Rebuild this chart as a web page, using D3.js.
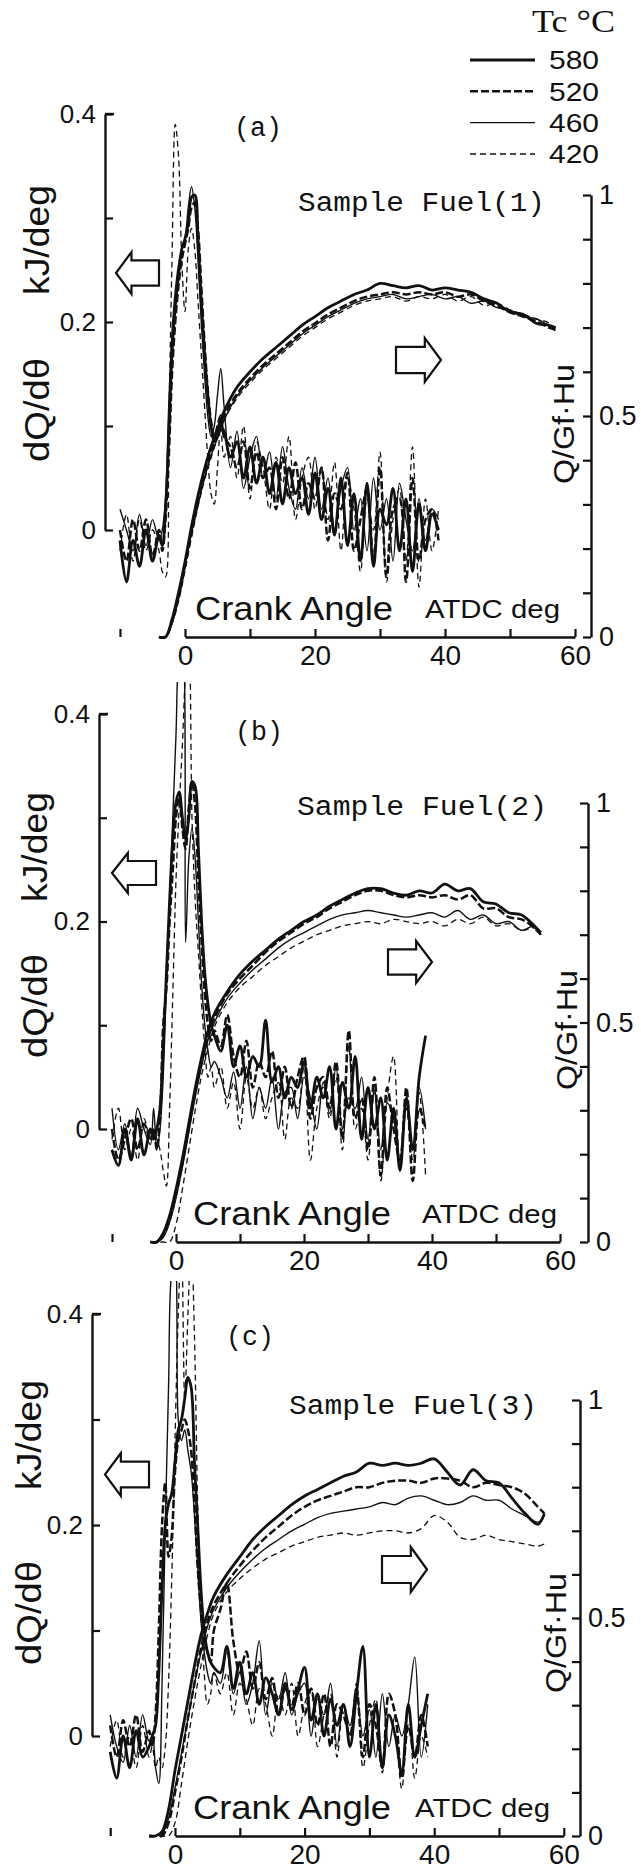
<!DOCTYPE html>
<html>
<head>
<meta charset="utf-8">
<script src="https://cdn.jsdelivr.net/npm/d3@7"></script>
<style>
  body { margin: 0; background: #fff; }
  svg text { fill: #111; }
</style>
</head>
<body>
<div id="chart"></div>
<script>
const width = 641;
const height = 1874;

// ============= Data =============

// crank angle grids (deg ATDC)
const dqAngles = [-10, -9, -8, -7, -6, -5, -4,
  -3.5, -3, -2.5, -2, -1.5, -1, -0.5, 0, 0.5, 1, 1.5, 2, 2.5, 3, 3.5, 4, 4.5, 5, 5.5, 6,
  7, 8, 9, 10, 11, 12, 13, 14, 15, 16, 17, 18, 19, 20, 21, 22, 23, 24, 25, 26, 27, 28, 29, 30,
  31, 32, 33, 34, 35, 36, 37, 38, 39];
const qAngles = [-4, -3, -2, -1, 0, 1, 2, 3, 4, 5, 6,
  8, 10, 12, 14, 16, 18, 20, 22, 24, 26, 28, 30, 32, 34, 36, 38, 40, 42, 44, 46, 48, 50, 52, 54, 56, 57];

const tcValues = [580, 520, 460, 420];
const xTickLabels = [0, 20, 40, 60];
const leftTickLabels = [0, 0.2, 0.4];
const rightTickLabels = [0, 0.5, 1];

// (a) Sample Fuel(1): heat release rate dQ/dθ, kJ/deg
const dqA_580 = [-0.01, -0.05, -0.01, -0.035, 0.0, -0.03, -0.005,
  -0.015, 0.02, 0.09, 0.17, 0.215, 0.245, 0.27, 0.28, 0.295, 0.32, 0.322, 0.28, 0.22, 0.17, 0.13, 0.1, 0.085, 0.09, 0.1, 0.095,
  0.07, 0.085, 0.05, 0.08, 0.045, 0.07, 0.035, 0.065, 0.025, 0.06, 0.035, 0.05, 0.015, 0.055, 0.01, 0.04, -0.005, 0.05, -0.015, 0.035,
  -0.03, 0.045, -0.035, 0.02, 0.005, 0.04, -0.02, 0.03, -0.04, 0.025, -0.02, 0.015, 0.0];
const dqA_520 = [0.0, -0.03, 0.01, -0.02, 0.01, -0.025, 0.0,
  -0.02, 0.01, 0.07, 0.15, 0.2, 0.235, 0.26, 0.275, 0.29, 0.31, 0.315, 0.29, 0.235, 0.18, 0.135, 0.105, 0.09, 0.1, 0.11, 0.09,
  0.08, 0.06, 0.085, 0.04, 0.075, 0.05, 0.06, 0.02, 0.07, 0.03, 0.065, 0.02, 0.045, 0.03, 0.06, -0.01, 0.035, 0.02, 0.055, -0.02,
  0.01, 0.04, -0.03, 0.06, -0.045, 0.02, 0.03, -0.05, 0.05, -0.03, 0.01, 0.02, -0.01];
const dqA_460 = [0.02, 0.0, -0.02, 0.015, -0.015, 0.01, -0.01,
  0.0, 0.03, 0.12, 0.19, 0.23, 0.255, 0.27, 0.28, 0.31, 0.33, 0.31, 0.26, 0.2, 0.15, 0.11, 0.09, 0.1, 0.13, 0.155, 0.12,
  0.06, 0.095, 0.04, 0.07, 0.09, 0.05, 0.075, 0.03, 0.08, 0.04, 0.02, 0.06, 0.03, 0.07, 0.02, 0.05, 0.0, 0.04, 0.06, 0.0,
  0.03, -0.02, 0.05, 0.0, 0.03, -0.03, 0.045, 0.01, -0.02, 0.03, -0.01, 0.02, 0.01];
const dqA_420 = [-0.02, 0.015, -0.03, 0.01, -0.02, 0.0, -0.02,
  -0.04, -0.045, 0.1, 0.26, 0.39, 0.36, 0.26, 0.21, 0.27, 0.29, 0.27, 0.22, 0.17, 0.12, 0.07, 0.035, 0.025, 0.06, 0.1, 0.07,
  0.09, 0.05, 0.1, 0.03, 0.085, 0.06, 0.02, 0.07, 0.045, 0.09, 0.01, 0.05, 0.07, 0.02, 0.06, 0.01, 0.065, -0.02, 0.05, 0.02,
  -0.04, 0.03, 0.0, 0.075, -0.05, 0.01, 0.04, -0.03, 0.08, -0.055, 0.03, -0.02, 0.02];

// (a) cumulative heat release Q/Gf·Hu
const qA_580 = [0, 0, 0.04, 0.1, 0.17, 0.25, 0.32, 0.38, 0.43, 0.47, 0.51,
  0.565, 0.6, 0.63, 0.655, 0.68, 0.705, 0.725, 0.745, 0.76, 0.775, 0.785, 0.8, 0.795, 0.79, 0.795, 0.785, 0.79, 0.785, 0.78,
  0.765, 0.755, 0.735, 0.73, 0.71, 0.705, 0.7];
const qA_520 = [0, 0, 0.035, 0.09, 0.16, 0.235, 0.305, 0.365, 0.415, 0.46, 0.5,
  0.55, 0.585, 0.615, 0.64, 0.665, 0.69, 0.71, 0.73, 0.745, 0.76, 0.77, 0.775, 0.78, 0.775, 0.78, 0.775, 0.78, 0.77, 0.775,
  0.76, 0.75, 0.735, 0.725, 0.715, 0.7, 0.695];
const qA_460 = [0, 0, 0.03, 0.09, 0.16, 0.235, 0.3, 0.36, 0.41, 0.45, 0.49,
  0.545, 0.58, 0.61, 0.635, 0.66, 0.685, 0.705, 0.725, 0.74, 0.755, 0.765, 0.77, 0.775, 0.765, 0.77, 0.775, 0.765, 0.77, 0.755,
  0.76, 0.745, 0.74, 0.725, 0.72, 0.705, 0.7];
const qA_420 = [0, 0, 0.03, 0.08, 0.15, 0.225, 0.295, 0.355, 0.405, 0.45, 0.49,
  0.54, 0.575, 0.605, 0.63, 0.655, 0.68, 0.7, 0.72, 0.735, 0.75, 0.76, 0.765, 0.77, 0.76, 0.77, 0.765, 0.775, 0.76, 0.77,
  0.75, 0.755, 0.74, 0.73, 0.72, 0.71, 0.69];

// (b) Sample Fuel(2)
const dqB_580 = [-0.02, -0.035, 0.0, -0.03, 0.01, -0.025, 0.0,
  -0.01, 0.0, 0.02, 0.08, 0.15, 0.22, 0.28, 0.315, 0.325, 0.3, 0.28, 0.3, 0.335, 0.33, 0.27, 0.2, 0.15, 0.12, 0.1, 0.09,
  0.075, 0.1, 0.06, 0.08, 0.05, 0.07, 0.06, 0.105, 0.045, 0.06, 0.03, 0.05, 0.04, 0.065, 0.02, 0.05, 0.03, 0.06, 0.0, 0.045,
  0.02, 0.07, -0.01, 0.04, 0.0, 0.03, -0.03, 0.02, -0.04, 0.03, -0.02, 0.05, 0.09];
const dqB_520 = [0.0, -0.03, -0.01, 0.01, -0.02, 0.005, -0.01,
  0.0, -0.02, 0.01, 0.1, 0.135, 0.2, 0.25, 0.3, 0.32, 0.29, 0.27, 0.31, 0.335, 0.31, 0.24, 0.18, 0.13, 0.1, 0.085, 0.095,
  0.08, 0.11, 0.07, 0.05, 0.085, 0.04, 0.065, 0.05, 0.075, 0.03, 0.06, 0.02, 0.05, 0.07, 0.01, 0.04, 0.05, 0.02, 0.065, -0.01,
  0.095, 0.01, 0.03, -0.02, 0.05, -0.045, 0.04, 0.0, -0.03, 0.04, -0.05, 0.02, 0.0];
const dqB_460 = [0.02, -0.02, 0.005, -0.025, 0.02, 0.0, -0.015,
  0.02, -0.02, 0.0, 0.05, 0.14, 0.22, 0.3, 0.38, 0.46, 0.47, 0.18, 0.26, 0.29, 0.26, 0.2, 0.14, 0.1, 0.075, 0.06, 0.065,
  0.05, 0.03, 0.055, 0.02, 0.06, 0.01, 0.04, 0.02, 0.05, 0.0, 0.035, 0.04, 0.01, 0.05, 0.03, 0.0, 0.045, 0.015, 0.06, 0.0,
  0.03, 0.02, 0.05, -0.01, 0.035, -0.02, 0.025, 0.01, -0.03, 0.03, -0.02, 0.04, 0.0];
const dqB_420 = [-0.01, 0.02, -0.02, 0.0, -0.03, 0.01, -0.01,
  0.0, -0.01, -0.02, -0.04, -0.055, 0.02, 0.13, 0.24, 0.31, 0.37, 0.44, 0.47, 0.3, 0.22, 0.17, 0.12, 0.08, 0.05, 0.06, 0.04,
  0.06, 0.02, 0.045, 0.0, 0.05, 0.02, 0.04, 0.01, 0.03, 0.045, -0.01, 0.03, 0.02, 0.06, -0.03, 0.02, 0.04, 0.01, 0.05, -0.02,
  0.08, 0.0, 0.02, -0.03, 0.04, -0.05, 0.03, 0.07, -0.04, 0.02, -0.03, 0.035, -0.045];

const qB_580 = [0, 0, 0.02, 0.06, 0.12, 0.19, 0.27, 0.35, 0.42, 0.48, 0.52,
  0.57, 0.61, 0.64, 0.665, 0.69, 0.71, 0.73, 0.745, 0.765, 0.78, 0.795, 0.805, 0.805, 0.795, 0.79, 0.8, 0.795, 0.815, 0.8,
  0.805, 0.775, 0.77, 0.75, 0.745, 0.72, 0.705];
const qB_520 = [0, 0, 0.015, 0.05, 0.11, 0.18, 0.26, 0.34, 0.41, 0.47, 0.51,
  0.565, 0.6, 0.63, 0.66, 0.685, 0.705, 0.725, 0.74, 0.76, 0.775, 0.79, 0.8, 0.8, 0.79, 0.785, 0.79, 0.785, 0.79, 0.78,
  0.79, 0.76, 0.76, 0.74, 0.735, 0.715, 0.7];
const qB_460 = [0, 0, 0.01, 0.045, 0.1, 0.17, 0.25, 0.33, 0.4, 0.46, 0.5,
  0.555, 0.59, 0.62, 0.645, 0.67, 0.69, 0.705, 0.72, 0.735, 0.745, 0.75, 0.755, 0.75, 0.745, 0.74, 0.745, 0.75, 0.74, 0.755,
  0.735, 0.745, 0.725, 0.73, 0.71, 0.72, 0.7];
const qB_420 = [0, 0, 0, 0, 0.04, 0.12, 0.21, 0.3, 0.38, 0.44, 0.49,
  0.545, 0.58, 0.605, 0.63, 0.65, 0.67, 0.685, 0.7, 0.71, 0.72, 0.725, 0.73, 0.725, 0.735, 0.73, 0.725, 0.73, 0.72, 0.735,
  0.725, 0.74, 0.72, 0.725, 0.71, 0.715, 0.7];

// (c) Sample Fuel(3)
const dqC_580 = [-0.015, -0.04, 0.0, -0.03, 0.005, -0.02, -0.01,
  0.0, 0.01, 0.06, 0.14, 0.2, 0.22, 0.23, 0.26, 0.29, 0.3, 0.32, 0.34, 0.33, 0.26, 0.2, 0.14, 0.1, 0.08, 0.07, 0.065,
  0.06, 0.085, 0.045, 0.07, 0.04, 0.06, 0.03, 0.055, 0.04, 0.02, 0.05, 0.025, 0.045, 0.065, 0.015, 0.04, 0.0, 0.035, 0.01, 0.03,
  -0.01, 0.04, 0.085, -0.02, 0.03, -0.03, 0.02, 0.0, -0.035, 0.03, -0.02, 0.01, 0.04];
const dqC_520 = [0.01, -0.02, 0.015, -0.01, 0.02, -0.015, 0.005,
  -0.01, 0.02, 0.1, 0.2, 0.24, 0.17, 0.19, 0.25, 0.28, 0.29, 0.3, 0.29, 0.27, 0.22, 0.16, 0.12, 0.09, 0.08, 0.07, 0.1,
  0.12, 0.145, 0.09, 0.06, 0.08, 0.045, 0.07, 0.035, 0.055, 0.02, 0.045, 0.03, 0.05, 0.02, 0.045, 0.01, 0.04, -0.01, 0.03, 0.02,
  0.0, 0.045, -0.02, 0.03, 0.01, -0.03, 0.04, 0.02, -0.04, 0.01, -0.02, 0.02, -0.01];
const dqC_460 = [0.02, -0.01, -0.025, 0.01, -0.02, 0.02, -0.005,
  0.0, -0.03, -0.045, 0.05, 0.2, 0.33, 0.44, 0.45, 0.3, 0.28, 0.29, 0.27, 0.25, 0.21, 0.16, 0.11, 0.08, 0.06, 0.05, 0.06,
  0.05, 0.08, 0.04, 0.06, 0.03, 0.05, 0.09, 0.02, 0.05, 0.035, 0.06, 0.02, 0.04, 0.05, 0.0, 0.035, 0.02, 0.05, -0.01, 0.03,
  0.01, 0.04, 0.0, 0.025, -0.02, 0.04, -0.01, 0.02, 0.0, 0.03, 0.075, -0.02, 0.03];
const dqC_420 = [-0.01, 0.015, -0.02, 0.0, -0.03, 0.01, -0.02,
  -0.01, -0.03, -0.02, -0.03, -0.01, 0.05, 0.15, 0.28, 0.4, 0.47, 0.32, 0.4, 0.47, 0.38, 0.22, 0.12, 0.06, 0.03, 0.04, 0.06,
  0.04, 0.06, 0.02, 0.05, 0.035, 0.01, 0.045, 0.03, 0.0, 0.04, 0.02, 0.05, 0.0, 0.03, 0.045, -0.01, 0.02, 0.04, -0.02, 0.03,
  0.0, 0.05, -0.03, 0.01, 0.035, -0.035, 0.02, 0.0, -0.05, 0.03, -0.04, 0.0, -0.02];

const qC_580 = [0, 0, 0.01, 0.06, 0.15, 0.23, 0.31, 0.39, 0.46, 0.51, 0.55,
  0.6, 0.64, 0.68, 0.71, 0.735, 0.76, 0.78, 0.795, 0.81, 0.825, 0.835, 0.855, 0.85, 0.855, 0.85, 0.855, 0.865, 0.835, 0.805,
  0.84, 0.815, 0.81, 0.775, 0.74, 0.715, 0.74];
const qC_520 = [0, 0, 0, 0.03, 0.1, 0.18, 0.27, 0.35, 0.43, 0.49, 0.53,
  0.58, 0.62, 0.655, 0.685, 0.71, 0.735, 0.755, 0.77, 0.78, 0.79, 0.8, 0.8, 0.81, 0.815, 0.815, 0.81, 0.82, 0.82, 0.815,
  0.8, 0.81, 0.805, 0.8, 0.785, 0.755, 0.74];
const qC_460 = [0, 0, 0.005, 0.04, 0.11, 0.19, 0.27, 0.35, 0.42, 0.48, 0.52,
  0.57, 0.605, 0.635, 0.66, 0.68, 0.7, 0.715, 0.73, 0.74, 0.745, 0.75, 0.755, 0.765, 0.76, 0.775, 0.78, 0.77, 0.76, 0.765,
  0.78, 0.77, 0.77, 0.75, 0.735, 0.72, 0.735];
const qC_420 = [0, 0, 0, 0, 0.03, 0.12, 0.22, 0.31, 0.39, 0.46, 0.51,
  0.56, 0.59, 0.615, 0.635, 0.65, 0.665, 0.675, 0.685, 0.69, 0.695, 0.69, 0.695, 0.7, 0.7, 0.695, 0.705, 0.735, 0.72, 0.685,
  0.68, 0.69, 0.68, 0.675, 0.67, 0.665, 0.67];

// ============= Styles & layout =============

const lineStyle = {
  580: { w: 2.8, dash: null },
  520: { w: 2.5, dash: "8,3" },
  460: { w: 1.4, dash: null },
  420: { w: 1.3, dash: "6,4" }
};

const panels = [
  {
    tag: "(a)", fuel: "Sample Fuel(1)",
    dq: { 580: dqA_580, 520: dqA_520, 460: dqA_460, 420: dqA_420 },
    q: { 580: qA_580, 520: qA_520, 460: qA_460, 420: qA_420 },
    x0: 185, xPerDeg: 6.5, axisY: 637,
    leftX: 105, yl0: 530, yl4: 114, clipTop: 100,
    rightX: 591, yr0: 637, yr1: 195,
    tagPos: [258, 127], fuelPos: [298, 211, 247],
    arrowL: [116, 252, 43, 42], arrowR: [396, 338, 45, 44],
    kj: [37, 240], dqLab: [37, 410], qLab: [563, 424],
    crankX: 195, atdcX: 425
  },
  {
    tag: "(b)", fuel: "Sample Fuel(2)",
    dq: { 580: dqB_580, 520: dqB_520, 460: dqB_460, 420: dqB_420 },
    q: { 580: qB_580, 520: qB_520, 460: qB_460, 420: qB_420 },
    x0: 176, xPerDeg: 6.4, axisY: 1242,
    leftX: 99, yl0: 1129, yl4: 714, clipTop: 682,
    rightX: 588, yr0: 1242, yr1: 803,
    tagPos: [259, 731], fuelPos: [297, 815, 250],
    arrowL: [112, 853, 44, 40], arrowR: [388, 941, 44, 42],
    kj: [35, 847], dqLab: [35, 1006], qLab: [566, 1030],
    crankX: 193, atdcX: 422
  },
  {
    tag: "(c)", fuel: "Sample Fuel(3)",
    dq: { 580: dqC_580, 520: dqC_520, 460: dqC_460, 420: dqC_420 },
    q: { 580: qC_580, 520: qC_520, 460: qC_460, 420: qC_420 },
    x0: 175, xPerDeg: 6.48, axisY: 1836,
    leftX: 92, yl0: 1736, yl4: 1314, clipTop: 1281,
    rightX: 580, yr0: 1836, yr1: 1400,
    tagPos: [250, 1336], fuelPos: [289, 1414, 248],
    arrowL: [105, 1453, 44, 43], arrowR: [382, 1547, 45, 45],
    kj: [29, 1435], dqLab: [29, 1613], qLab: [555, 1633],
    crankX: 193, atdcX: 415
  }
];

const sans = "'Liberation Sans', Arial, sans-serif";
const mono = "'Liberation Mono', 'DejaVu Sans Mono', monospace";
const serif = "'Liberation Serif', 'DejaVu Serif', serif";

const svg = d3.select("#chart")
  .append("svg")
  .attr("width", width)
  .attr("height", height)
  .style("background", "#fff");

// ============= Legend =============

const legendY = d3.scalePoint().domain(tcValues).range([60, 154]);
const legend = svg.append("g");
legend.append("text")
  .attr("x", 532).attr("y", 32)
  .attr("textLength", 83).attr("lengthAdjust", "spacingAndGlyphs")
  .style("font-family", serif).style("font-size", "32px")
  .text("Tc °C");
legend.selectAll("line")
  .data(tcValues)
  .join("line")
  .attr("x1", 470).attr("x2", 535)
  .attr("y1", d => legendY(d)).attr("y2", d => legendY(d))
  .attr("stroke", "#111")
  .attr("stroke-width", d => lineStyle[d].w)
  .attr("stroke-dasharray", d => lineStyle[d].dash);
legend.selectAll("text.tc")
  .data(tcValues)
  .join("text")
  .attr("class", "tc")
  .attr("x", 549).attr("y", d => legendY(d))
  .attr("dy", "0.36em")
  .attr("textLength", 50).attr("lengthAdjust", "spacingAndGlyphs")
  .style("font-family", sans).style("font-size", "26px")
  .text(d => d);

// ============= Panels =============

function arrowPath(x, y, w, h, dir) {
  const hw = w * 0.36, s0 = y + h * 0.2, s1 = y + h * 0.8;
  const p = dir < 0
    ? [[x, y + h / 2], [x + hw, y], [x + hw, s0], [x + w, s0], [x + w, s1], [x + hw, s1], [x + hw, y + h]]
    : [[x + w, y + h / 2], [x + w - hw, y], [x + w - hw, s0], [x, s0], [x, s1], [x + w - hw, s1], [x + w - hw, y + h]];
  return "M" + p.map(d => d.join(",")).join("L") + "Z";
}

panels.forEach((p, i) => {
  const g = svg.append("g");

  const x = d3.scaleLinear().domain([0, 60]).range([p.x0, p.x0 + 60 * p.xPerDeg]);
  const yL = d3.scaleLinear().domain([0, 0.4]).range([p.yl0, p.yl4]);
  const yR = d3.scaleLinear().domain([0, 1]).range([p.yr0, p.yr1]);

  // bottom axis
  g.append("g")
    .attr("transform", `translate(0,${p.axisY})`)
    .call(d3.axisBottom(x)
      .tickValues(d3.range(-10, 61, 10))
      .tickSizeInner(-8).tickSizeOuter(0).tickPadding(8)
      .tickFormat(d => xTickLabels.includes(d) ? d : ""))
    .call(a => a.selectAll("text").style("font-size", "28px"));

  // left axis dQ/dθ
  g.append("g")
    .attr("transform", `translate(${p.leftX},0)`)
    .call(d3.axisLeft(yL)
      .tickValues([0, 0.1, 0.2, 0.3, 0.4])
      .tickSizeInner(-8).tickSizeOuter(0).tickPadding(9)
      .tickFormat(d => leftTickLabels.includes(d) ? d3.format("~g")(d) : ""))
    .call(a => a.selectAll("text").style("font-size", "26px"));
  g.append("line")
    .attr("x1", p.leftX).attr("x2", p.leftX + 9)
    .attr("y1", yL(0.4)).attr("y2", yL(0.4))
    .attr("stroke", "#111").attr("stroke-width", 2.4);

  // right axis Q/Gf·Hu
  g.append("g")
    .attr("transform", `translate(${p.rightX},0)`)
    .call(d3.axisRight(yR)
      .ticks(10)
      .tickSizeInner(-8).tickSizeOuter(0).tickPadding(8)
      .tickFormat(d => rightTickLabels.includes(+d.toFixed(2)) ? d3.format("~g")(d) : ""))
    .call(a => a.selectAll("text").style("font-size", "27px"));

  g.selectAll(".domain").attr("stroke", "#111").attr("stroke-width", 2.4);
  g.selectAll(".tick line").attr("stroke", "#111").attr("stroke-width", 2.2);
  g.selectAll(".tick text").style("font-family", sans).attr("fill", "#111");

  // clip for the spikes that leave the frame
  const clipId = `clip${i}`;
  svg.append("clipPath").attr("id", clipId)
    .append("rect")
    .attr("x", 0).attr("y", p.clipTop)
    .attr("width", width).attr("height", p.axisY - p.clipTop + 2);

  const curves = g.append("g").attr("clip-path", `url(#${clipId})`);

  const dqLine = d3.line()
    .x(d => x(d[0])).y(d => yL(d[1]))
    .curve(d3.curveCatmullRom.alpha(0.5));
  const qLine = d3.line()
    .x(d => x(d[0])).y(d => yR(d[1]))
    .curve(d3.curveCatmullRom.alpha(0.5));

  const order = [420, 460, 520, 580];
  order.forEach(tc => {
    const st = lineStyle[tc];
    const dq = p.dq[tc], q = p.q[tc];
    if (dq.length !== dqAngles.length) console.warn("dq length", p.tag, tc, dq.length);
    if (q.length !== qAngles.length) console.warn("q length", p.tag, tc, q.length);
    curves.append("path")
      .datum(d3.zip(dqAngles, dq))
      .attr("d", dqLine)
      .attr("fill", "none").attr("stroke", "#111")
      .attr("stroke-width", st.w).attr("stroke-dasharray", st.dash)
      .attr("stroke-linejoin", "round");
    curves.append("path")
      .datum(d3.zip(qAngles, q))
      .attr("d", qLine)
      .attr("fill", "none").attr("stroke", "#111")
      .attr("stroke-width", st.w).attr("stroke-dasharray", st.dash)
      .attr("stroke-linejoin", "round");
  });

  // arrows
  g.append("path")
    .attr("d", arrowPath(...p.arrowL, -1))
    .attr("fill", "#fff").attr("stroke", "#111").attr("stroke-width", 2.2);
  g.append("path")
    .attr("d", arrowPath(...p.arrowR, 1))
    .attr("fill", "#fff").attr("stroke", "#111").attr("stroke-width", 2.2);

  // panel texts
  g.append("text")
    .attr("x", p.tagPos[0]).attr("y", p.tagPos[1])
    .attr("dy", "0.35em").attr("text-anchor", "middle")
    .attr("textLength", 48).attr("lengthAdjust", "spacingAndGlyphs")
    .style("font-family", mono).style("font-size", "27px")
    .text(p.tag);
  g.append("text")
    .attr("x", p.fuelPos[0]).attr("y", p.fuelPos[1])
    .attr("textLength", p.fuelPos[2]).attr("lengthAdjust", "spacingAndGlyphs")
    .style("font-family", mono).style("font-size", "27px")
    .text(p.fuel);
  g.append("text")
    .attr("x", p.crankX).attr("y", p.axisY - 17)
    .attr("textLength", 198).attr("lengthAdjust", "spacingAndGlyphs")
    .style("font-family", sans).style("font-size", "34px")
    .text("Crank Angle");
  g.append("text")
    .attr("x", p.atdcX).attr("y", p.axisY - 19)
    .attr("textLength", 135).attr("lengthAdjust", "spacingAndGlyphs")
    .style("font-family", sans).style("font-size", "26px")
    .text("ATDC deg");

  const rot = (pos, txt, len, size) => g.append("text")
    .attr("transform", `translate(${pos[0]},${pos[1]}) rotate(-90)`)
    .attr("text-anchor", "middle").attr("dy", "0.35em")
    .attr("textLength", len).attr("lengthAdjust", "spacingAndGlyphs")
    .style("font-family", sans).style("font-size", size)
    .text(txt);
  rot(p.kj, "kJ/deg", 110, "35px");
  rot(p.dqLab, "dQ/dθ", 104, "35px");
  rot(p.qLab, "Q/Gf·Hu", 120, "30px");
});
</script>
</body>
</html>
